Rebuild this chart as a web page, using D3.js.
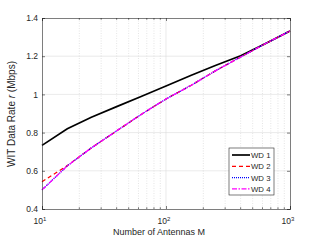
<!DOCTYPE html>
<html lang="en">
<head>
    <meta charset="utf-8">
    <title>WIT rate</title>
    <script type="text/javascript" src="https://d3js.org/d3.v7.min.js"></script>
    <style>
        body { margin: 0; background: white; }
        text { font-family: "Liberation Sans", Arial, sans-serif; fill: #262626; }
    </style>
</head>
<body>
<div id="chart"></div>
<script type="text/javascript">
    // data
    const antennas = [10, 16, 25, 40, 63, 100, 160, 250, 400, 630, 1000];
    const wd1 = [0.733, 0.820, 0.880, 0.936, 0.989, 1.044, 1.100, 1.151, 1.202, 1.265, 1.332];
    const wd2 = [0.543, 0.627, 0.720, 0.809, 0.895, 0.976, 1.048, 1.123, 1.196, 1.265, 1.332];
    const wd3 = [0.500, 0.626, 0.720, 0.809, 0.895, 0.976, 1.048, 1.123, 1.196, 1.265, 1.332];
    const wd4 = [0.500, 0.626, 0.720, 0.809, 0.895, 0.976, 1.048, 1.123, 1.196, 1.265, 1.332];
    const seriesNames = ["WD 1", "WD 2", "WD 3", "WD 4"];
    const yTicks = [0.4, 0.6, 0.8, 1, 1.2, 1.4];
    const xTicks = [10, 100, 1000];

    const width = 321, height = 241;
    const mLeft = 42, mRight = 290, mTop = 18, mBottom = 209;

    const series = [
        {name: seriesNames[0], values: wd1, color: "#000000", dash: null, w: 1.7},
        {name: seriesNames[1], values: wd2, color: "#ff0000", dash: "4,3", w: 1.3},
        {name: seriesNames[2], values: wd3, color: "#0000ff", dash: "1,1", w: 1.3},
        {name: seriesNames[3], values: wd4, color: "#ff00ff", dash: "5,1.5,1.5,1.5", w: 1.3}
    ];

    const svg = d3.select("#chart").append("svg")
        .attr("width", width).attr("height", height);

    const x = d3.scaleLog().domain([10, 1000]).range([mLeft, mRight]);
    const y = d3.scaleLinear().domain([0.4, 1.4]).range([mBottom, mTop]);

    // minor log ticks
    const minor = [];
    for (let d = 10; d < 1000; d *= 10)
        for (let k = 2; k <= 9; k++) minor.push(d * k);

    // grid
    svg.append("g").selectAll("line").data(yTicks.slice(1, -1)).enter().append("line")
        .attr("x1", mLeft).attr("x2", mRight)
        .attr("y1", d => y(d)).attr("y2", d => y(d))
        .attr("stroke", "#dcdcdc").attr("stroke-width", 0.6);
    svg.append("g").selectAll("line").data(minor).enter().append("line")
        .attr("x1", d => x(d)).attr("x2", d => x(d))
        .attr("y1", mTop).attr("y2", mBottom)
        .attr("stroke", "#d4d4d4").attr("stroke-width", 0.6)
        .attr("stroke-dasharray", "1,1.5");
    svg.append("line")
        .attr("x1", x(100)).attr("x2", x(100)).attr("y1", mTop).attr("y2", mBottom)
        .attr("stroke", "#dcdcdc").attr("stroke-width", 0.6);

    // lines
    const line = d3.line().x((d, i) => x(antennas[i])).y(d => y(d));
    svg.append("g").selectAll("path").data(series).enter().append("path")
        .attr("d", d => line(d.values))
        .attr("fill", "none")
        .attr("stroke", d => d.color)
        .attr("stroke-width", d => d.w)
        .attr("stroke-dasharray", d => d.dash);

    // axes (box, inward ticks)
    const axisColor = "#262626";
    const gy = svg.append("g").attr("transform", `translate(${mLeft},0)`)
        .call(d3.axisLeft(y).tickValues(yTicks).tickSize(-3).tickPadding(4)
            .tickFormat(d3.format("~g")));
    const gy2 = svg.append("g").attr("transform", `translate(${mRight},0)`)
        .call(d3.axisRight(y).tickValues(yTicks).tickSize(-3).tickFormat(""));
    const gx = svg.append("g").attr("transform", `translate(0,${mBottom})`)
        .call(d3.axisBottom(x).tickValues(xTicks).tickSize(-3).tickFormat(""));
    const gx2 = svg.append("g").attr("transform", `translate(0,${mTop})`)
        .call(d3.axisTop(x).tickValues(xTicks).tickSize(-3).tickFormat(""));
    [gx, gx2].forEach(g => {
        g.selectAll(".minor").data(minor).enter().append("line")
            .attr("class", "minor")
            .attr("x1", d => x(d)).attr("x2", d => x(d))
            .attr("y1", 0).attr("y2", g === gx ? -1.8 : 1.8)
            .attr("stroke", axisColor).attr("stroke-width", 0.6);
    });
    [gy, gy2, gx, gx2].forEach(g => {
        g.select(".domain").attr("stroke", axisColor).attr("stroke-width", 0.6);
        g.selectAll(".tick line").attr("stroke", axisColor).attr("stroke-width", 0.6);
        g.selectAll("text").style("font-family", "Liberation Sans, Arial, sans-serif")
            .attr("font-size", 8.5).attr("fill", axisColor);
    });

    // x tick labels with exponents
    const xl = svg.append("g").selectAll("text").data(xTicks).enter().append("text")
        .attr("x", d => x(d) - 2).attr("y", 224)
        .attr("text-anchor", "middle").attr("font-size", 8.5);
    xl.append("tspan").text("10");
    xl.append("tspan").attr("dy", -3.5).attr("font-size", 6)
        .text(d => Math.round(Math.log10(d)));

    // axis labels
    svg.append("text").attr("x", 159).attr("y", 234.5)
        .attr("text-anchor", "middle").attr("font-size", 9)
        .text("Number of Antennas M");
    const yl = svg.append("text")
        .attr("transform", `translate(14.5,114) rotate(-90)`)
        .attr("text-anchor", "middle").attr("font-size", 10);
    yl.append("tspan").text("WIT Data Rate ");
    yl.append("tspan").attr("font-style", "italic").text("r");
    yl.append("tspan").text(" (Mbps)");

    // legend
    const lg = svg.append("g").attr("transform", "translate(229,148)");
    lg.append("rect").attr("width", 45).attr("height", 47)
        .attr("fill", "white").attr("stroke", "#262626").attr("stroke-width", 0.6);
    const items = lg.selectAll(".item").data(series).enter().append("g")
        .attr("transform", (d, i) => `translate(0,${7 + i * 11.3})`);
    items.append("line").attr("x1", 3).attr("x2", 21)
        .attr("stroke", d => d.color).attr("stroke-width", d => d.w)
        .attr("stroke-dasharray", d => d.dash);
    items.append("text").attr("x", 22).attr("y", 3).attr("font-size", 7.8)
        .text(d => d.name);
</script>
</body>
</html>
